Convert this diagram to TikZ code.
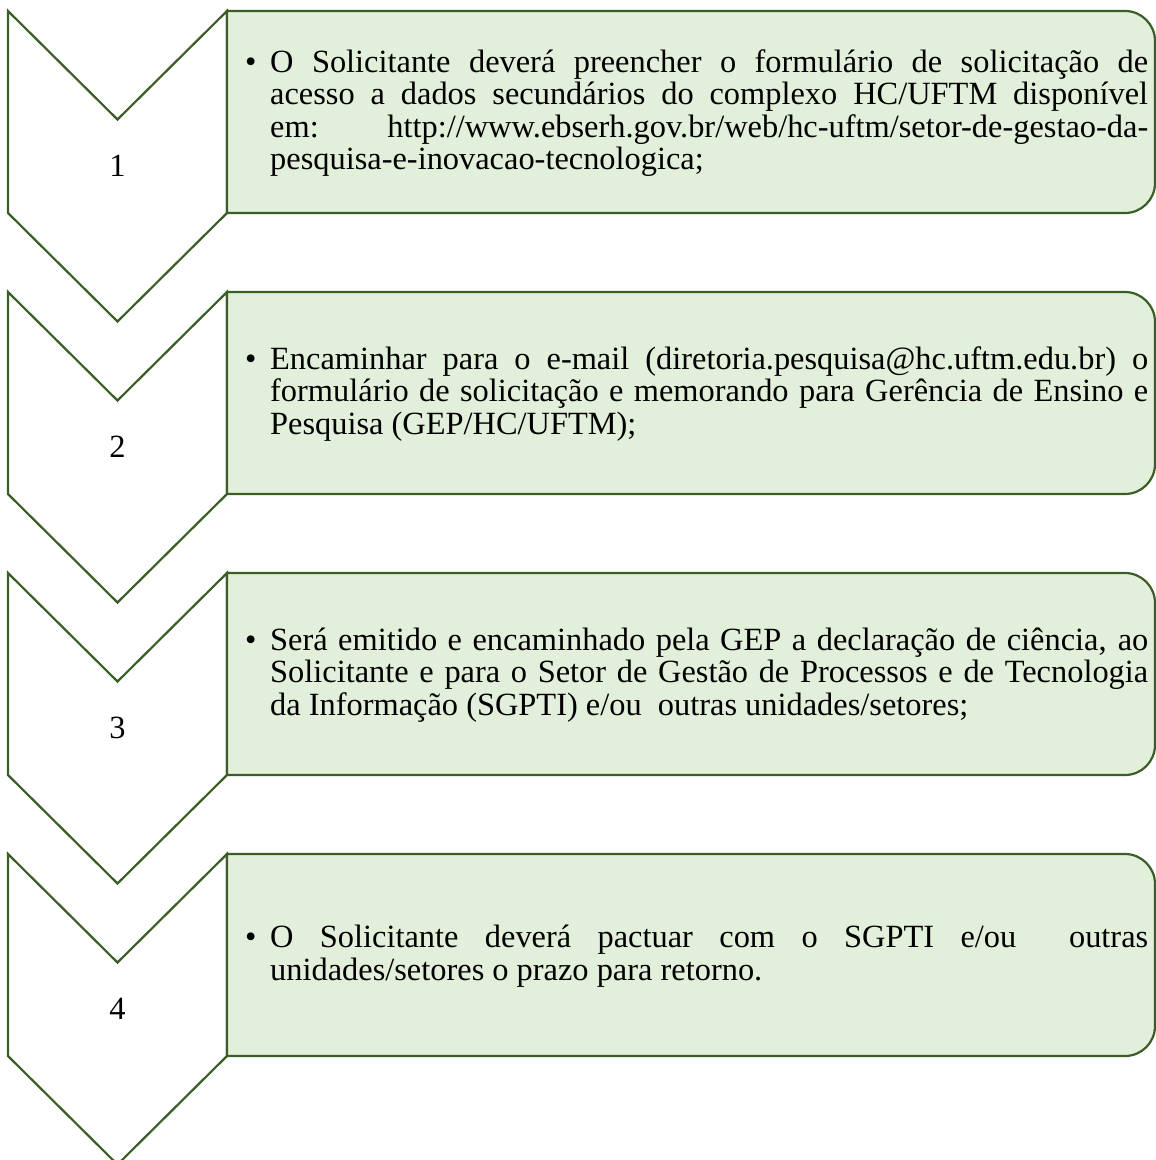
\documentclass[tikz,border=0pt]{standalone}
\usepackage{fontspec}
\setmainfont{Liberation Serif}
\definecolor{chevline}{HTML}{3B5E27}
\definecolor{boxfill}{HTML}{E2EFDA}
\tikzset{
  chevshape/.style={draw=chevline, line width=2.2pt, fill=white, line join=miter},
  stepbox/.style={draw=chevline, line width=2.2pt, fill=boxfill},
  numlabel/.style={inner sep=0pt, font=\fontsize{32.4}{33}\selectfont},
  bodytext/.style={inner sep=0pt, anchor=west, font=\fontsize{32.4}{32.6}\selectfont}
}
\newcommand{\bulletpar}[1]{\parbox{903pt}{\setlength{\parfillskip}{0pt plus 1fil}\hangindent=25pt\hangafter=1\noindent\makebox[25pt][l]{\textbullet}#1}}
\begin{document}
\begin{tikzpicture}[x=1pt,y=-1pt]
\useasboundingbox (0,0) rectangle (1156,1160);
\clip (0,0) rectangle (1156,1160);
\foreach \k in {0,1,2,3}{
  \pgfmathsetmacro{\yt}{11+281*\k}
  \draw[chevshape] (8,\yt) -- (117.5,\yt+108.5) -- (227,\yt) -- (227,\yt+202) -- (117.5,\yt+310.5) -- (8,\yt+202) -- cycle;
  \draw[stepbox] (227,\yt) -- (1125,\yt) arc[start angle=-90, end angle=0, radius=30] -- (1155,\yt+172) arc[start angle=0, end angle=90, radius=30] -- (227,\yt+202) -- cycle;
}
\node[numlabel] (n1) at (117.5,166) {1};
\node[numlabel] (n2) at (117.5,447) {2};
\node[numlabel] (n3) at (117.5,728) {3};
\node[numlabel] (n4) at (117.5,1009) {4};
\node[bodytext] (t1) at (245,113) {\bulletpar{O Solicitante deverá preencher o formulário de solicitação de\linebreak acesso a dados secundários do complexo HC/UFTM disponível\linebreak em: http://www.ebserh.gov.br/web/hc-uftm/setor-de-gestao-da-\linebreak pesquisa-e-inovacao-tecnologica;}};
\node[bodytext] (t2) at (245,394) {\bulletpar{Encaminhar para o e-mail (diretoria.pesquisa@hc.uftm.edu.br) o\linebreak formulário de solicitação e memorando para Gerência de Ensino e\linebreak Pesquisa (GEP/HC/UFTM);}};
\node[bodytext] (t3) at (245,675) {\bulletpar{Será emitido e encaminhado pela GEP a declaração de ciência, ao\linebreak Solicitante e para o Setor de Gestão de Processos e de Tecnologia\linebreak da Informação (SGPTI) e/ou~ outras unidades/setores;}};
\node[bodytext] (t4) at (245,956) {\bulletpar{O Solicitante deverá pactuar com o SGPTI e/ou~ outras\linebreak unidades/setores o prazo para retorno.}};
\end{tikzpicture}
\end{document}
